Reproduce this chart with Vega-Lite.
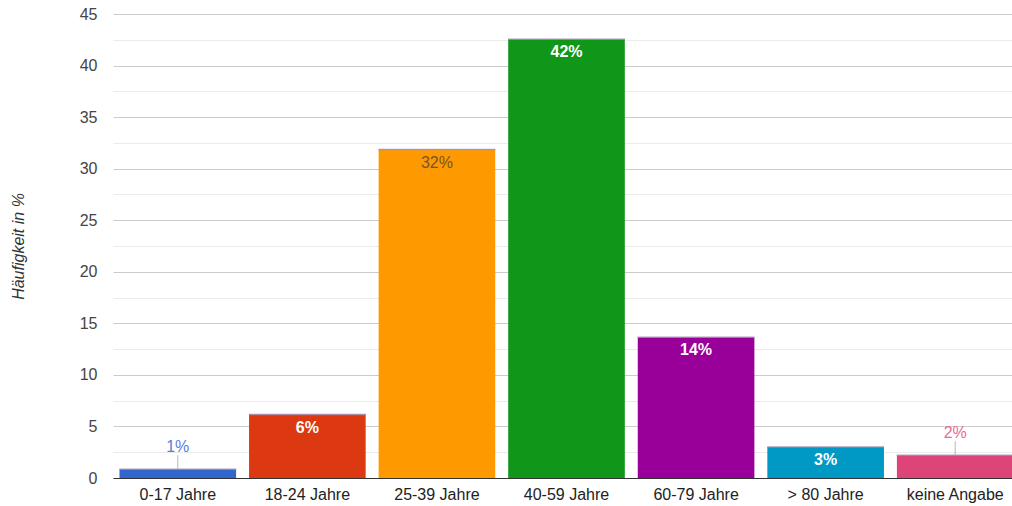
{
  "$schema": "https://vega.github.io/schema/vega-lite/v6.json",
  "width": 907,
  "height": 464,
  "autosize": {"type": "none"},
  "padding": {"left": 113, "top": 14, "right": 0, "bottom": 28},
  "background": "white",
  "config": {
    "view": {"stroke": null},
    "font": "Liberation Sans"
  },
  "data": {
    "values": [
      {"gruppe": "0-17 Jahre", "wert": 0.85, "label": "1%"},
      {"gruppe": "18-24 Jahre", "wert": 6.15, "label": "6%"},
      {"gruppe": "25-39 Jahre", "wert": 31.85, "label": "32%"},
      {"gruppe": "40-59 Jahre", "wert": 42.55, "label": "42%"},
      {"gruppe": "60-79 Jahre", "wert": 13.65, "label": "14%"},
      {"gruppe": "> 80 Jahre", "wert": 3.0, "label": "3%"},
      {"gruppe": "keine Angabe", "wert": 2.2, "label": "2%"}
    ]
  },
  "encoding": {
    "x": {
      "field": "gruppe",
      "type": "nominal",
      "sort": null,
      "scale": {"paddingInner": 0.1, "paddingOuter": 0.05},
      "axis": {
        "title": null,
        "labelAngle": 0,
        "labelFontSize": 16,
        "labelColor": "#222222",
        "labelPadding": 8,
        "ticks": false,
        "domainColor": "#333333",
        "domainWidth": 1
      }
    },
    "y": {
      "field": "wert",
      "type": "quantitative",
      "scale": {"domain": [0, 45], "nice": false},
      "axis": {
        "title": "Häufigkeit in %",
        "titleFontStyle": "italic",
        "titleFontWeight": "normal",
        "titleFontSize": 16,
        "titleColor": "#333333",
        "titleX": -95,
        "titleY": 232,
        "titleAngle": 270,
        "titleAlign": "center",
        "titleBaseline": "middle",
        "values": [0, 2.5, 5, 7.5, 10, 12.5, 15, 17.5, 20, 22.5, 25, 27.5, 30, 32.5, 35, 37.5, 40, 42.5, 45],
        "labelExpr": "datum.value % 5 === 0 ? datum.label : ''",
        "labelFontSize": 16,
        "labelColor": "#444444",
        "labelPadding": 16,
        "ticks": false,
        "domain": false,
        "gridColor": {"condition": {"test": "datum.value % 5 === 0", "value": "#cccccc"}, "value": "#ebebeb"},
        "gridWidth": 1
      }
    }
  },
  "layer": [
    {
      "mark": {"type": "bar"},
      "encoding": {
        "color": {
          "field": "gruppe",
          "type": "nominal",
          "sort": null,
          "legend": null,
          "scale": {
            "domain": ["0-17 Jahre", "18-24 Jahre", "25-39 Jahre", "40-59 Jahre", "60-79 Jahre", "> 80 Jahre", "keine Angabe"],
            "range": ["#3366cc", "#dc3912", "#ff9900", "#109618", "#990099", "#0099c6", "#dd4477"]
          }
        }
      }
    },
    {
      "mark": {"type": "tick", "orient": "horizontal", "size": 117, "thickness": 1.5, "color": "#9c8aa8", "opacity": 0.8},
      "encoding": {}
    },
    {
      "transform": [{"filter": "datum.wert >= 2.5 && datum.gruppe !== '25-39 Jahre'"}],
      "mark": {"type": "text", "baseline": "middle", "dy": 13, "fontSize": 16, "fontWeight": "bold", "color": "#ffffff"},
      "encoding": {
        "text": {"field": "label"}
      }
    },
    {
      "transform": [{"filter": "datum.gruppe === '25-39 Jahre'"}],
      "mark": {"type": "text", "baseline": "middle", "dy": 13, "fontSize": 16, "color": "#5a4a3a", "opacity": 0.85},
      "encoding": {
        "text": {"field": "label"}
      }
    },
    {
      "transform": [{"filter": "datum.wert < 2.5"}],
      "mark": {"type": "text", "baseline": "bottom", "dy": -14, "fontSize": 16},
      "encoding": {
        "text": {"field": "label"},
        "color": {
          "condition": {"test": "datum.gruppe === '0-17 Jahre'", "value": "#5580db"},
          "value": "#e56d95"
        }
      }
    },
    {
      "transform": [{"filter": "datum.wert < 2.5"}],
      "mark": {"type": "tick", "orient": "vertical", "size": 14, "thickness": 1, "color": "#999999", "yOffset": -7},
      "encoding": {}
    }
  ]
}
